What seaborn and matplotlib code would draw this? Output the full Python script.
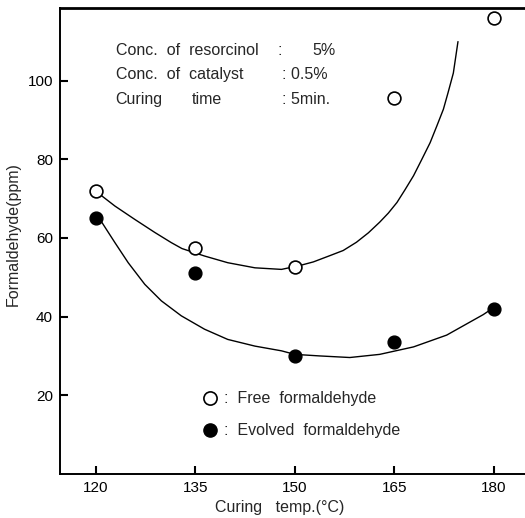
import matplotlib
matplotlib.use("Agg")
import matplotlib.pyplot as plt
from matplotlib.lines import Line2D
import seaborn as sns
import pandas as pd

# measured points
temps = [120, 135, 150, 165, 180]
free_hcho = [72, 57.5, 52.5, 95.5, 115.8]
evolved_hcho = [65, 51, 30, 33.5, 42]

# hand-drawn fitted curves
free_curve_x = [120.6, 122.9, 125.9, 128.9, 131.4, 133.0, 136.4, 139.9, 144.0, 148.0,
                150.8, 152.8, 155.3, 157.3, 159.3, 161.1, 162.8, 164.1, 165.4, 166.6,
                167.9, 169.1, 170.4, 171.4, 172.4, 173.1, 173.9, 174.6]
free_curve_y = [71.1, 68.1, 64.7, 61.4, 58.8, 57.3, 55.4, 53.7, 52.4, 52.0,
                53.0, 53.9, 55.5, 56.8, 58.9, 61.3, 64.0, 66.3, 69.0, 72.2,
                75.8, 79.8, 84.2, 88.4, 92.7, 96.9, 101.9, 109.9]
evol_curve_x = [120.8, 122.9, 124.9, 127.4, 129.9, 132.9, 136.4, 139.9, 144.0, 148.0,
                150.0, 153.8, 158.3, 162.8, 167.9, 172.9, 178.4, 179.2]
evol_curve_y = [64.3, 58.8, 53.7, 48.2, 44.0, 40.2, 36.8, 34.2, 32.5, 31.3,
                30.4, 30.0, 29.6, 30.4, 32.3, 35.3, 40.5, 41.4]

xticks = [120, 135, 150, 165, 180]
yticks = [20, 40, 60, 80, 100]

sns.set_theme(style="ticks")
plt.rcParams['font.family'] = ['Liberation Sans', 'DejaVu Sans']

fig = plt.figure(figsize=(5.25, 5.18), dpi=100)
ax = fig.add_axes([0.114, 0.085, 0.886, 0.900])

pts = pd.DataFrame({"t": temps, "free": free_hcho, "evol": evolved_hcho})
fc = pd.DataFrame({"x": free_curve_x, "y": free_curve_y})
ec = pd.DataFrame({"x": evol_curve_x, "y": evol_curve_y})

sns.lineplot(data=fc, x="x", y="y", sort=False, estimator=None, color="black", lw=1.0, ax=ax)
sns.lineplot(data=ec, x="x", y="y", sort=False, estimator=None, color="black", lw=1.0, ax=ax)
sns.scatterplot(data=pts, x="t", y="free", s=85, facecolor="white", edgecolor="black",
                linewidth=1.2, ax=ax, zorder=5)
sns.scatterplot(data=pts, x="t", y="evol", s=85, color="black", edgecolor="black",
                linewidth=1.0, ax=ax, zorder=5)

ax.set_xlim(114.6, 184.7)
ax.set_ylim(0, 118.5)
ax.set_xticks(xticks)
ax.set_yticks(yticks)
ax.tick_params(direction="in", length=6, width=1.5, labelsize=11, colors="black", pad=5)
for s in ["left", "bottom"]:
    ax.spines[s].set_linewidth(1.4)
    ax.spines[s].set_color("black")
ax.spines["top"].set_visible(True)
ax.spines["top"].set_linewidth(2.0)
ax.spines["top"].set_color("black")
ax.spines["right"].set_visible(False)

ax.set_xlabel("Curing   temp.(\u00b0C)", fontsize=11.5)
ax.set_ylabel("Formaldehyde(ppm)", fontsize=11.5)
ax.xaxis.set_label_coords(0.473, -0.056)
ax.yaxis.set_label_coords(-0.084, 0.515)

fs = 11.5
ax.text(0.120, 0.908, "Conc.  of  resorcinol", transform=ax.transAxes, fontsize=fs, va="center")
ax.text(0.467, 0.908, ":", transform=ax.transAxes, fontsize=fs, va="center")
ax.text(0.542, 0.908, "5%", transform=ax.transAxes, fontsize=fs, va="center")
ax.text(0.120, 0.856, "Conc.  of  catalyst", transform=ax.transAxes, fontsize=fs, va="center")
ax.text(0.477, 0.856, ": 0.5%", transform=ax.transAxes, fontsize=fs, va="center")
ax.text(0.120, 0.803, "Curing", transform=ax.transAxes, fontsize=fs, va="center")
ax.text(0.284, 0.803, "time", transform=ax.transAxes, fontsize=fs, va="center")
ax.text(0.477, 0.803, ": 5min.", transform=ax.transAxes, fontsize=fs, va="center")

handles = [
    Line2D([], [], marker="o", linestyle="none", markersize=9.5, markerfacecolor="white",
           markeredgecolor="black", markeredgewidth=1.2),
    Line2D([], [], marker="o", linestyle="none", markersize=9.5, markerfacecolor="black",
           markeredgecolor="black"),
]
ax.legend(handles, [":  Free  formaldehyde", ":  Evolved  formaldehyde"], loc="center left",
          bbox_to_anchor=(0.305, 0.127), frameon=False, borderaxespad=0, borderpad=0,
          handlelength=1.0, handletextpad=0.4, labelspacing=1.05, fontsize=fs)

fig.savefig("out.png", dpi=100)
